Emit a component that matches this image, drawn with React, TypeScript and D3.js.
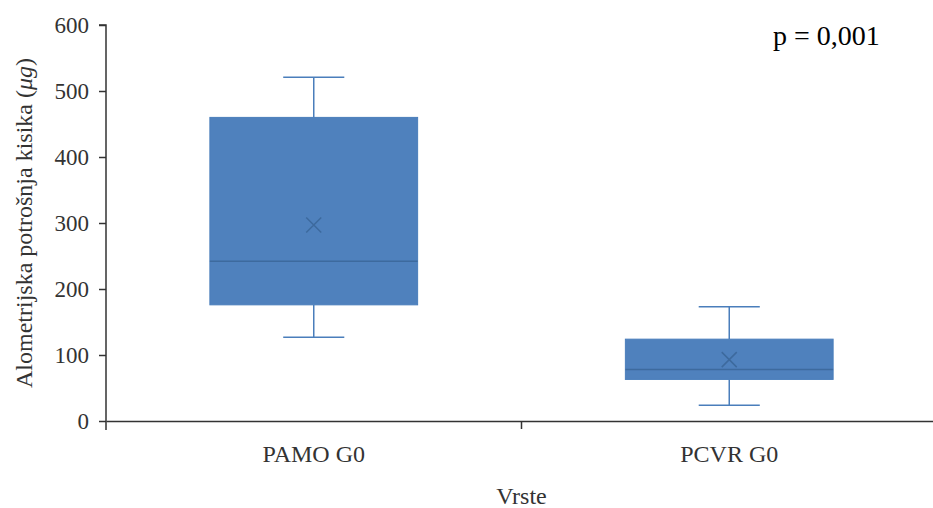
import React, { useEffect, useRef } from "react";
import * as d3 from "d3";

const categories = ["PAMO G0", "PCVR G0"];
const whiskerMin = [127, 24];
const q1 = [176, 63];
const median = [242, 78];
const q3 = [460, 124];
const whiskerMax = [521, 173];
const mean = [297, 93];
const yTicks = [0, 100, 200, 300, 400, 500, 600];

const W = 933;
const H = 508;
const FONT = '"Liberation Serif", "DejaVu Serif", serif';

export default function App() {
  const ref = useRef<SVGSVGElement>(null);

  useEffect(() => {
    const svg = d3.select(ref.current);
    svg.selectAll("*").remove();

    const left = 106, right = 937, top = 25, bottom = 421;
    const x = d3.scaleBand<string>().domain(categories).range([left, right]).padding(0);
    const y = d3.scaleLinear().domain([0, 600]).range([bottom, top]);
    const bw = x.bandwidth();
    const boxW = bw * 0.5;
    const capW = bw * 0.147;

    const fill = "#4F81BD";
    const line = "#4A7EBB";
    const dark = "#3D6A9E";

    const data = categories.map((c, i) => ({
      c,
      lo: whiskerMin[i],
      q1: q1[i],
      med: median[i],
      q3: q3[i],
      hi: whiskerMax[i],
      mean: mean[i],
    }));

    const g = svg.append("g");
    data.forEach((d) => {
      const cx = (x(d.c) as number) + bw / 2;
      g.append("line").attr("x1", cx).attr("x2", cx).attr("y1", y(d.hi)).attr("y2", y(d.q3))
        .attr("stroke", line).attr("stroke-width", 1.5);
      g.append("line").attr("x1", cx).attr("x2", cx).attr("y1", y(d.q1)).attr("y2", y(d.lo))
        .attr("stroke", line).attr("stroke-width", 1.5);
      g.append("line").attr("x1", cx - capW / 2).attr("x2", cx + capW / 2).attr("y1", y(d.hi)).attr("y2", y(d.hi))
        .attr("stroke", line).attr("stroke-width", 1.5);
      g.append("line").attr("x1", cx - capW / 2).attr("x2", cx + capW / 2).attr("y1", y(d.lo)).attr("y2", y(d.lo))
        .attr("stroke", line).attr("stroke-width", 1.5);
      g.append("rect").attr("x", cx - boxW / 2).attr("width", boxW)
        .attr("y", y(d.q3)).attr("height", y(d.q1) - y(d.q3))
        .attr("fill", fill).attr("stroke", "#4A7EBB").attr("stroke-width", 1);
      g.append("line").attr("x1", cx - boxW / 2).attr("x2", cx + boxW / 2).attr("y1", y(d.med)).attr("y2", y(d.med))
        .attr("stroke", dark).attr("stroke-width", 1.5);
      const m = 7.5;
      const my = y(d.mean);
      g.append("path")
        .attr("d", `M${cx - m},${my - m}L${cx + m},${my + m}M${cx - m},${my + m}L${cx + m},${my - m}`)
        .attr("stroke", dark).attr("stroke-width", 1.5).attr("fill", "none");
    });

    const yAxis = svg.append("g").attr("transform", `translate(${left},0)`)
      .call(d3.axisLeft(y).tickValues(yTicks).tickSize(7).tickPadding(10).tickFormat(d3.format("d")));
    yAxis.attr("font-family", null);
    yAxis.select(".domain").attr("stroke", "#333").attr("stroke-width", 1.5).attr("d", `M-7,${top}H0V${bottom + 9}`);
    yAxis.selectAll(".tick line").attr("stroke", "#333").attr("stroke-width", 1.5);
    yAxis.selectAll(".tick text").style("font-family", FONT).style("font-size", "23px").attr("fill", "#333");

    const xAxis = svg.append("g").attr("transform", `translate(0,${bottom})`)
      .call(d3.axisBottom(x).tickSize(0).tickPadding(24));
    xAxis.attr("font-family", null);
    xAxis.select(".domain").attr("stroke", "#333").attr("stroke-width", 1.5);
    xAxis.selectAll(".tick text").style("font-family", FONT).style("font-size", "24px").attr("fill", "#333");
    const bounds = categories.slice(1).map((c) => x(c) as number);
    xAxis.selectAll(".bound").data(bounds).enter().append("line")
      .attr("x1", (d) => d).attr("x2", (d) => d).attr("y1", 0).attr("y2", 8)
      .attr("stroke", "#333").attr("stroke-width", 1.5);

    svg.append("text").attr("x", (left + right) / 2).attr("y", 504).attr("text-anchor", "middle")
      .style("font-family", FONT).style("font-size", "24px").attr("fill", "#333").text("Vrste");

    const yt = svg.append("text")
      .attr("transform", `translate(32,${(top + bottom) / 2}) rotate(-90)`)
      .attr("text-anchor", "middle").style("font-family", FONT).style("font-size", "24px").attr("fill", "#333");
    yt.append("tspan").text("Alometrijska potrošnja kisika (");
    yt.append("tspan").attr("font-style", "italic").text("μg");
    yt.append("tspan").text(")");

    svg.append("text").attr("x", 773).attr("y", 45).style("font-family", FONT).style("font-size", "28px")
      .attr("fill", "#000").text("p = 0,001");
  }, []);

  return (
    <svg ref={ref} width={W} height={H} style={{ position: "absolute", left: 0, top: 0, background: "#fff" }} />
  );
}
